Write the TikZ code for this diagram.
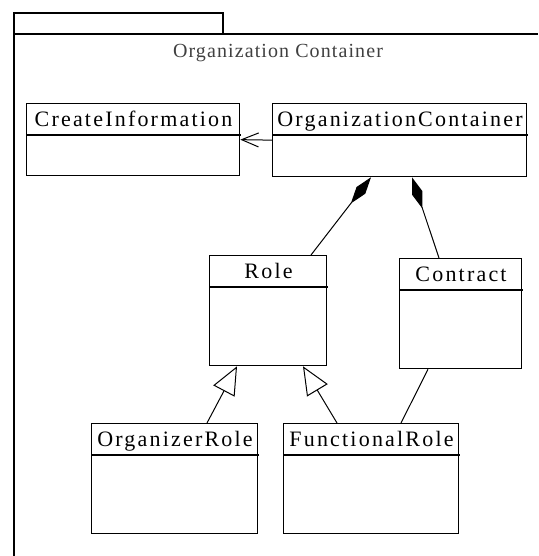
\documentclass[tikz,border=0pt]{standalone}
\usepackage{fontspec}
\setmainfont{Liberation Serif}
\usetikzlibrary{arrows.meta}
\newcommand\umlcls[7]{%
  \node[clsbox, minimum width={#4-#2}, minimum height={#6-#3}, anchor=north west] (#1) at (#2,#3) {};
  \draw[clsline] (#2,#5) -- ({#4+2},#5);
  \node[clsname, anchor=base] (#1-name) at ({(#2+#4)/2+1},{#3+23.5}) {#7};
}
\tikzset{
  clsbox/.style={draw=black, line width=1.3pt, inner sep=0pt, fill=white},
  clsline/.style={draw=black, line width=1.1pt},
  clsname/.style={inner sep=0pt, font=\fontsize{22}{26}\selectfont\addfontfeatures{LetterSpace=10}},
  titletext/.style={inner sep=0pt, text=black!75, font=\fontsize{20}{24}\selectfont\addfontfeatures{LetterSpace=5.5}},
  frameline/.style={draw=black, line width=1.3pt},
  conn/.style={draw=black, line width=1pt},
  assoc/.style={conn, -{Straight Barb[length=17pt,width=14pt,line width=1pt]}},
  comp/.style={conn, {Diamond[length=33pt,width=11pt]}-},
  gen/.style={conn, -{Triangle[open,length=28pt,width=24pt,line width=1pt]}},
}
\begin{document}
\begin{tikzpicture}[x=1pt,y=-1pt]
\useasboundingbox (0,0) rectangle (538,556);
% package frame
\coordinate (fbl) at (14,556);
\coordinate (ftl) at (14,34);
\coordinate (ftr) at (538,34);
\coordinate (tabtr) at (223,13);
\draw[frameline] (fbl) -- (ftl) -- (ftr);
\draw[frameline] (ftl) rectangle (tabtr);
\node[titletext, anchor=base] (title) at (278,58) {Organization Container};
% classes
\umlcls{ci}{26}{103}{239}{135}{175}{CreateInformation}
\umlcls{oc}{272}{103}{526}{135}{176}{OrganizationContainer}
\umlcls{role}{209}{255}{326}{287}{365}{Role}
\umlcls{contract}{399}{258}{521}{290}{368}{Contract}
\umlcls{orgrole}{91}{423}{257}{455}{533}{OrganizerRole}
\umlcls{fr}{283}{423}{458}{455}{533}{FunctionalRole}
% connectors
\draw[assoc] (oc.west) -- (ci.east);
\draw[comp] ([xshift=99pt]oc.south west) -- ([xshift=102pt]role.north west);
\draw[comp] ([xshift=140pt]oc.south west) -- ([xshift=40pt]contract.north west);
\draw[gen] ([xshift=116pt]orgrole.north west) -- ([xshift=28pt]role.south west);
\draw[gen] ([xshift=54pt]fr.north west) -- ([xshift=94pt]role.south west);
\draw[conn] ([xshift=29pt]contract.south west) -- ([xshift=118pt]fr.north west);
\end{tikzpicture}
\end{document}
